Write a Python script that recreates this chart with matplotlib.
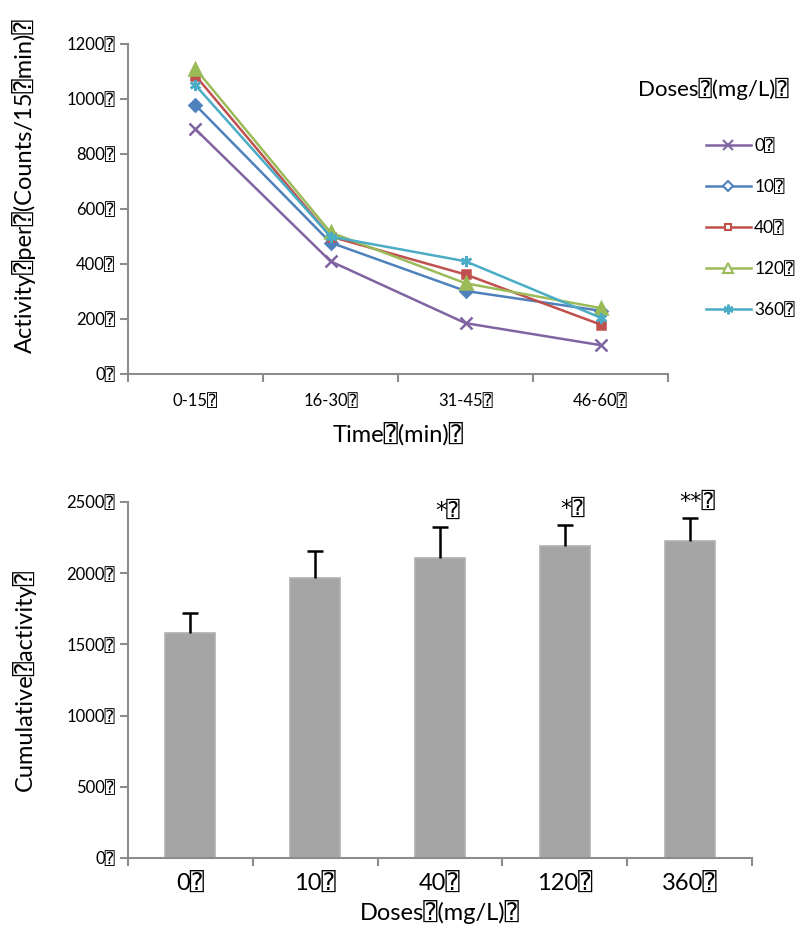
from matplotlib import pyplot as plt
from matplotlib.lines import Line2D
import numpy as np

plt.rcParams['font.family'] = ['Lato', 'DejaVu Sans', 'DejaVu Sans Mono']

Q = '\u2370'

# top panel: activity per 15 min
periods = ['0-15', '16-30', '31-45', '46-60']
doses = ['0', '10', '40', '120', '360']
act_0 = [890, 410, 185, 105]
act_10 = [978, 478, 302, 230]
act_40 = [1085, 500, 362, 180]
act_120 = [1110, 515, 330, 240]
act_360 = [1050, 500, 410, 205]

# bottom panel: cumulative activity
cum_mean = [1580, 1968, 2110, 2188, 2228]
cum_err = [140, 188, 214, 152, 162]
signif = ['', '', '*', '*', '**']

colors = ['#8064A2', '#4F81BD', '#C0504D', '#9BBB59', '#4BACC6']
markers = ['x', 'D', 's', '^', (6, 2, 0)]
spine_col = '#8C8C8C'


def style_axes(ax):
    for s in ['top', 'right']:
        ax.spines[s].set_visible(False)
    for s in ['left', 'bottom']:
        ax.spines[s].set_color(spine_col)
        ax.spines[s].set_linewidth(1.5)
    ax.tick_params(axis='both', which='major', color=spine_col, width=1.5, length=6)


def main():
    fig = plt.figure(figsize=(8.07, 9.40), dpi=100)

    # ---- top: line chart ----
    ax1 = fig.add_axes([0.1586, 0.6021, 0.6692, 0.3511])
    series = [act_0, act_10, act_40, act_120, act_360]
    x = np.arange(len(periods))
    handles = []
    for vals, c, m, d in zip(series, colors, markers, doses):
        ms = 8 if m not in ('D', 's') else 6
        ax1.plot(x, vals, color=c, lw=1.8, marker=m, ms=ms, mfc=c, mec=c, mew=1.8)
        handles.append(Line2D([], [], color=c, lw=1.8, marker=m, ms=ms - 1,
                              mfc='white', mec=c, mew=1.5, label=d + Q))
    ax1.set_xlim(-0.5, len(periods) - 0.5)
    ax1.set_ylim(0, 1200)
    ax1.set_yticks(np.arange(0, 1201, 200))
    ax1.set_yticklabels([f'{v}{Q}' for v in range(0, 1201, 200)], fontsize=12)
    ax1.set_xticks(np.arange(-0.5, len(periods), 1.0))
    ax1.set_xticklabels([])
    ax1.set_xticks(x, minor=True)
    ax1.set_xticklabels([p + Q for p in periods], minor=True, fontsize=12)
    ax1.tick_params(axis='x', which='minor', length=0, pad=14)
    style_axes(ax1)
    ax1.set_xlabel(f'Time{Q}(min){Q}', fontsize=17, labelpad=9)
    ax1.set_ylabel(f'Activity{Q}per{Q}(Counts/15{Q}min){Q}', fontsize=17)
    ax1.yaxis.set_label_coords(-0.17, 0.57)

    fig.text(0.79, 0.905, f'Doses{Q}(mg/L){Q}', fontsize=16, ha='left', va='center')
    fig.legend(handles=handles, loc='upper left', bbox_to_anchor=(0.855, 0.87),
               frameon=False, fontsize=12.5, handlelength=2.6, handletextpad=0.2,
               labelspacing=1.45)

    # ---- bottom: bar chart ----
    ax2 = fig.add_axes([0.1586, 0.0872, 0.7732, 0.3788])
    xb = np.arange(len(doses))
    tops = np.array(cum_mean) + np.array(cum_err)
    ax2.bar(xb, cum_mean, width=0.4, color='#A5A5A5', edgecolor='#B0B0B0', lw=1.2)
    ax2.vlines(xb, cum_mean, tops, color='black', lw=1.8)
    ax2.plot(xb, tops, ls='none', marker='_', ms=12, mew=1.8, color='black')
    for xi, t, s in zip(xb, tops, signif):
        if s:
            ax2.text(xi + 0.06, t + 40, s + Q, ha='center', va='bottom', fontsize=16,
                     family=['DejaVu Sans', 'DejaVu Sans Mono'])
    ax2.set_xlim(-0.5, len(doses) - 0.5)
    ax2.set_ylim(0, 2500)
    ax2.set_yticks(np.arange(0, 2501, 500))
    ax2.set_yticklabels([f'{v}{Q}' for v in range(0, 2501, 500)], fontsize=12)
    ax2.set_xticks(np.arange(-0.5, len(doses), 1.0))
    ax2.set_xticklabels([])
    ax2.set_xticks(xb, minor=True)
    ax2.set_xticklabels([d + Q for d in doses], minor=True, fontsize=17)
    ax2.tick_params(axis='x', which='minor', length=0, pad=10)
    style_axes(ax2)
    ax2.set_xlabel(f'Doses{Q}(mg/L){Q}', fontsize=17, labelpad=4)
    ax2.set_ylabel(f'Cumulative{Q}activity{Q}', fontsize=17)
    ax2.yaxis.set_label_coords(-0.147, 0.5)

    fig.savefig('out.png', dpi=100)


if __name__ == '__main__':
    main()
